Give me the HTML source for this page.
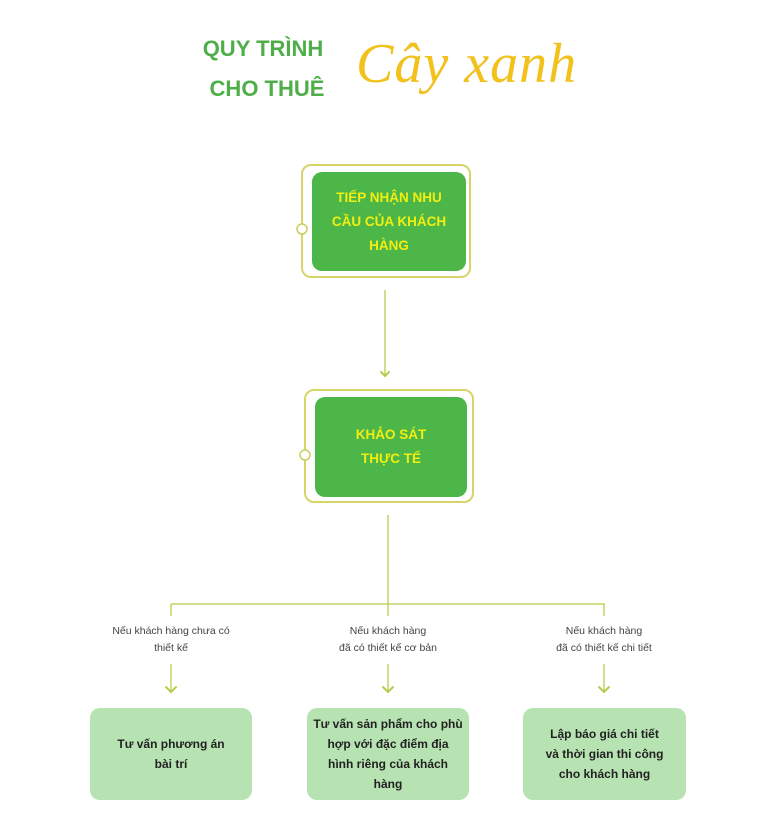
<!DOCTYPE html>
<html><head><meta charset="utf-8"><style>
html,body{margin:0;padding:0;background:#fff;}
body{width:768px;height:836px;position:relative;overflow:hidden;font-family:"Liberation Sans",sans-serif;}
.t{position:absolute;font-weight:bold;color:#4fae4a;font-size:22px;text-align:center;width:160px;}
.g{position:absolute;background:#4cb748;border-radius:10px;color:#f2ee10;font-weight:bold;font-size:13.5px;line-height:24px;display:flex;align-items:center;justify-content:center;text-align:center;}
.l{position:absolute;background:#b7e2b2;border-radius:10px;color:#222;font-weight:bold;font-size:12px;line-height:20px;display:flex;align-items:center;justify-content:center;text-align:center;}
.c{position:absolute;font-size:10.5px;color:#444;text-align:center;line-height:17px;width:200px;}
</style></head><body>
<div class="t" style="left:183px;top:36px;">QUY TRÌNH</div>
<div class="t" style="left:187px;top:76px;">CHO THUÊ</div>
<div style="position:absolute;left:356px;top:32px;font-family:'Liberation Serif',serif;font-style:italic;font-size:56px;color:#f2c11c;letter-spacing:1px;">Cây xanh</div>
<svg width="768" height="836" style="position:absolute;left:0;top:0" fill="none">
<g stroke="#d6d56a" stroke-width="2">
<rect x="302" y="165" width="168" height="112" rx="9"/>
<rect x="305" y="390" width="168" height="112" rx="9"/>
</g>
<circle cx="302" cy="229" r="5" fill="#fff" stroke="#c9cf5a" stroke-width="1.5"/>
<circle cx="305" cy="455" r="5" fill="#fff" stroke="#c9cf5a" stroke-width="1.5"/>
<g stroke="#b8cc4a" stroke-width="1.3">
<line x1="385" y1="290" x2="385" y2="376"/>
<line x1="388" y1="515" x2="388" y2="616"/>
<line x1="171" y1="604" x2="605" y2="604"/>
<line x1="171" y1="604" x2="171" y2="616"/>
<line x1="604" y1="604" x2="604" y2="616"/>
<line x1="171" y1="664" x2="171" y2="692"/>
<line x1="388" y1="664" x2="388" y2="692"/>
<line x1="604" y1="664" x2="604" y2="692"/>
</g>
<g stroke="#b8cc4a" stroke-width="2" stroke-linecap="round">
<polyline points="381,372 385,376 389,372"/>
<polyline points="166,687 171,692 176,687"/>
<polyline points="383,687 388,692 393,687"/>
<polyline points="599,687 604,692 609,687"/>
</g>
</svg>
<div class="g" style="left:312px;top:172px;width:154px;height:99px;">TIẾP NHẬN NHU<br>CẦU CỦA KHÁCH<br>HÀNG</div>
<div class="g" style="left:315px;top:397px;width:152px;height:100px;">KHẢO SÁT<br>THỰC TẾ</div>
<div class="c" style="left:71px;top:623px;">Nếu khách hàng chưa có<br>thiết kế</div>
<div class="c" style="left:288px;top:623px;">Nếu khách hàng<br>đã có thiết kế cơ bản</div>
<div class="c" style="left:504px;top:623px;">Nếu khách hàng<br>đã có thiết kế chi tiết</div>
<div class="l" style="left:90px;top:708px;width:162px;height:92px;">Tư vấn phương án<br>bài trí</div>
<div class="l" style="left:307px;top:708px;width:162px;height:92px;">Tư vấn sản phẩm cho phù<br>hợp với đặc điểm địa<br>hình riêng của khách<br>hàng</div>
<div class="l" style="left:523px;top:708px;width:163px;height:92px;">Lập báo giá chi tiết<br>và thời gian thi công<br>cho khách hàng</div>
</body></html>
